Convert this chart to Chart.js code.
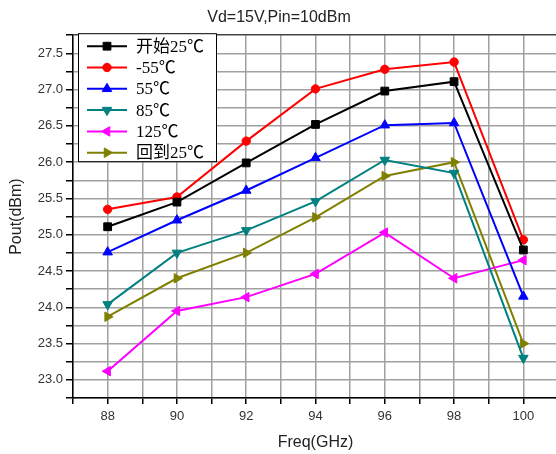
<!DOCTYPE html>
<html lang="zh">
<head>
<meta charset="UTF-8">
<title>Pout vs Freq</title>
<script src="https://cdn.jsdelivr.net/npm/chart.js"></script>
<style>
    body { margin: 0; background: #fff; overflow: hidden; }
    #wrap { width: 556px; height: 454px; overflow: hidden; }
</style>
</head>
<body>
<div id="wrap"><canvas id="chart" width="608" height="454"></canvas></div>
<script>
// data
const freqs = [88, 90, 92, 94, 96, 98, 100];
const seriesNames = ['开始25℃', '-55℃', '55℃', '85℃', '125℃', '回到25℃'];
const start25 = [25.11, 25.45, 25.99, 26.52, 26.98, 27.11, 24.79];
const minus55 = [25.35, 25.52, 26.29, 27.01, 27.28, 27.38, 24.93];
const temp55 = [24.76, 25.20, 25.61, 26.06, 26.51, 26.54, 24.15];
const temp85 = [24.04, 24.75, 25.06, 25.46, 26.03, 25.85, 23.30];
const temp125 = [23.12, 23.95, 24.14, 24.46, 25.03, 24.40, 24.65];
const back25 = [23.87, 24.40, 24.75, 25.24, 25.81, 26.00, 23.50];
const yTickLabels = ['23.0', '23.5', '24.0', '24.5', '25.0', '25.5', '26.0', '26.5', '27.0', '27.5'];
const xTickLabels = ['88', '90', '92', '94', '96', '98', '100'];

const allSeries = [start25, minus55, temp55, temp85, temp125, back25];
const colors = ['#000000', '#ff0000', '#0000ff', '#008080', '#ff00ff', '#808000'];
const styles = ['rect', 'circle', 'triangle', 'triangle', 'triangle', 'triangle'];
const rotations = [0, 0, 0, 180, 270, 90];
const radii = [5.5, 4.2, 5.5, 5.5, 5.5, 5.5];

const datasets = allSeries.map((vals, i) => ({
    label: seriesNames[i],
    data: freqs.map((f, j) => ({ x: f, y: vals[j] })),
    borderColor: colors[i],
    backgroundColor: colors[i],
    borderWidth: 2,
    pointStyle: styles[i],
    pointRotation: rotations[i],
    pointRadius: radii[i],
    pointBorderWidth: 1,
    tension: 0
}));

// legend with a frame, drawn inside the plot
const boxLegend = {
    id: 'boxLegend',
    afterDatasetsDraw(chart) {
        const { ctx, chartArea } = chart;
        const x0 = chartArea.left + 5, y0 = chartArea.top - 2;
        ctx.save();
        ctx.fillStyle = '#fff';
        ctx.fillRect(x0, y0, 138, 128);
        ctx.strokeStyle = '#000';
        ctx.lineWidth = 1;
        ctx.strokeRect(x0 + 0.5, y0 + 0.5, 138, 128);
        chart.data.datasets.forEach((ds, i) => {
            const cy = y0 + 13 + i * 21.3;
            ctx.strokeStyle = ds.borderColor;
            ctx.fillStyle = ds.backgroundColor;
            ctx.lineWidth = 2;
            ctx.beginPath();
            ctx.moveTo(x0 + 9, cy);
            ctx.lineTo(x0 + 49, cy);
            ctx.stroke();
            ctx.lineWidth = 1;
            if (Chart.helpers && Chart.helpers.drawPoint) {
                Chart.helpers.drawPoint(ctx, {
                    pointStyle: ds.pointStyle, rotation: ds.pointRotation,
                    radius: ds.pointRadius, borderWidth: 1
                }, x0 + 29, cy);
            } else {
                ctx.fillRect(x0 + 25, cy - 4, 8, 8);
            }
            ctx.fillStyle = '#000';
            ctx.font = '17px "Liberation Serif", "Noto Sans CJK SC", serif';
            ctx.textBaseline = 'middle';
            ctx.textAlign = 'left';
            ctx.fillText(ds.label, x0 + 58, cy + 1);
        });
        ctx.restore();
    }
};

const isHalf = v => Math.abs(v * 2 - Math.round(v * 2)) < 1e-6;

new Chart(document.getElementById('chart'), {
    type: 'line',
    data: { datasets },
    plugins: [boxLegend],
    options: {
        responsive: false,
        animation: false,
        layout: { padding: { right: 50 } },
        plugins: {
            legend: { display: false },
            tooltip: { enabled: false },
            title: {
                display: true,
                text: 'Vd=15V,Pin=10dBm',
                color: '#222',
                font: { family: 'Arial, "Liberation Sans", sans-serif', size: 16, weight: 'normal' },
                padding: { top: 8, bottom: 8 }
            }
        },
        scales: {
            x: {
                type: 'linear',
                min: 87,
                max: 101,
                afterFit: s => { s.height = 56; },
                border: { display: true, color: '#000', width: 1.5 },
                grid: { color: '#a0a0a0', lineWidth: 1.5, tickColor: '#000', tickLength: 6 },
                ticks: {
                    stepSize: 1,
                    autoSkip: false,
                    maxRotation: 0,
                    padding: 5,
                    color: '#333',
                    font: { family: 'Arial, "Liberation Sans", sans-serif', size: 13 },
                    callback: v => xTickLabels.includes(String(v)) ? String(v) : ''
                },
                title: {
                    display: true,
                    text: 'Freq(GHz)',
                    color: '#222',
                    font: { family: 'Arial, "Liberation Sans", sans-serif', size: 16 },
                    padding: { top: 0, bottom: 2 }
                }
            },
            y: {
                min: 22.75,
                max: 27.75,
                afterFit: s => { s.width = 73; },
                border: { display: true, color: '#000', width: 1.5 },
                grid: {
                    color: c => (c.tick && c.tick.value === 27.75) ? '#444' : '#a0a0a0',
                    lineWidth: 1.5,
                    tickColor: '#000',
                    tickLength: 7
                },
                ticks: {
                    stepSize: 0.25,
                    autoSkip: false,
                    padding: 3,
                    color: '#333',
                    font: { family: 'Arial, "Liberation Sans", sans-serif', size: 13 },
                    callback: v => isHalf(v) && yTickLabels.includes(v.toFixed(1)) ? v.toFixed(1) : ''
                },
                title: {
                    display: true,
                    text: 'Pout(dBm)',
                    color: '#222',
                    font: { family: 'Arial, "Liberation Sans", sans-serif', size: 16 },
                    padding: { top: 7, bottom: 0 }
                }
            }
        }
    }
});
</script>
</body>
</html>
